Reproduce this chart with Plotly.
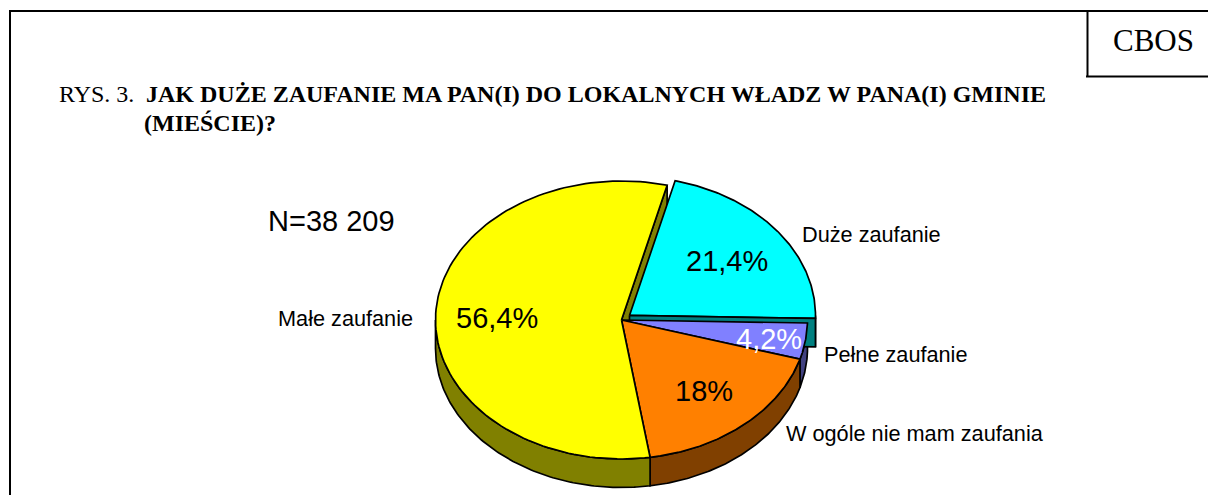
import math
import plotly.graph_objects as go

# ---- data ----
categories = ["Duże zaufanie", "Pełne zaufanie", "W ogóle nie mam zaufania", "Małe zaufanie"]
values = [21.4, 4.2, 18.0, 56.4]
face_colors = ["#00FFFF", "#8080FF", "#FF8000", "#FFFF00"]
side_colors = ["#008080", "#404080", "#804000", "#808000"]
label_colors = ["#000000", "#FFFFFF", "#000000", "#000000"]
explode = [0.054, 0, 0, 0]
n_text = "N=38 209"
source_text = "CBOS"

# ---- layout constants (pixels) ----
W, H = 1208, 495
CX, CY, RX, RY = 621.5, 320.0, 186.0, 139.0
DEPTH = 0.205          # pie thickness in radius units
START = 14.2           # degrees clockwise from top

x_range = [-CX / RX, (W - CX) / RX]
y_range = [(CY - H) / RY, CY / RY]


def pt(deg, ox=0.0, oy=0.0, drop=0.0):
    r = math.radians(deg)
    return math.sin(r) + ox, math.cos(r) + oy - drop


def arc(a, b, ox=0.0, oy=0.0, drop=0.0, steps=120):
    return [pt(a + (b - a) * i / steps, ox, oy, drop) for i in range(steps + 1)]


def poly(points, color, width=1.7):
    xs = [p[0] for p in points] + [points[0][0]]
    ys = [p[1] for p in points] + [points[0][1]]
    return go.Scatter(x=xs, y=ys, mode="lines", fill="toself", fillcolor=color,
                      line=dict(color="#000000", width=width), hoverinfo="skip",
                      showlegend=False)


spans = []
a = START
for v in values:
    b = a + v * 3.6
    spans.append((a, b))
    a = b

offsets = []
for (a, b), e in zip(spans, explode):
    m = math.radians((a + b) / 2)
    offsets.append((e * math.sin(m), e * math.cos(m)))

traces = []

# radial wall of the large slice, seen through the gap left by the exploded one
yi = categories.index("Małe zaufanie")
ya = spans[yi][1]
traces.append(poly([(0, 0), pt(ya), pt(ya, drop=DEPTH), (0, -DEPTH)], side_colors[yi]))

# outer rims
for i, (a, b) in enumerate(spans):
    lo, hi = max(a, 90), min(b, 270)
    if hi > lo:
        ox, oy = offsets[i]
        traces.append(poly(arc(lo, hi, ox, oy) + arc(hi, lo, ox, oy, DEPTH), side_colors[i]))

# exploded slice: face, then its lower radial wall
ci = 0
ox, oy = offsets[ci]
a, b = spans[ci]
traces.append(poly([(ox, oy)] + arc(a, b, ox, oy), face_colors[ci]))
traces.append(poly([(ox, oy), pt(b, ox, oy), pt(b, ox, oy, DEPTH), (ox, oy - DEPTH)], side_colors[ci]))

# remaining faces
for i in range(1, len(values)):
    a, b = spans[i]
    traces.append(poly([(0, 0)] + arc(a, b), face_colors[i]))

fig = go.Figure(traces)


def ann(text, x, y, size, family, color="#000000", anchor="left"):
    fig.add_annotation(text=text, x=x / W, y=1 - y / H, xref="paper", yref="paper",
                       showarrow=False, xanchor=anchor, yanchor="middle",
                       borderpad=0, align="left",
                       font=dict(size=size, family=family, color=color))


SERIF = "Liberation Serif"
SANS = "Liberation Sans"

ann(source_text, 1153, 41, 31, SERIF, anchor="center")
ann("RYS. 3.", 58, 93.5, 24, SERIF)
ann("<b>JAK DUŻE ZAUFANIE MA PAN(I) DO LOKALNYCH WŁADZ W PANA(I) GMINIE</b>", 144.5, 93.5, 24, SERIF)
ann("<b>(MIEŚCIE)?</b>", 143, 122.5, 24, SERIF)
ann(n_text, 267, 221, 29, SANS)

# percentage labels
pct_pos = [(726.7, 261), (769, 338.5), (703.7, 390.5), (496.8, 317.5)]
for v, c, (x, y) in zip(values, label_colors, pct_pos):
    s = f"{v:g}".replace(".", ",") + "%"
    ann(s, x, y, 29, SANS, color=c, anchor="center")

# category labels
cat_pos = [(801, 235), (822.5, 354.5), (785.5, 433.5), (276.5, 318.5)]
for name, (x, y) in zip(categories, cat_pos):
    ann(name, x, y, 21.7, SANS)

# frame
LINE = dict(color="#000000", width=2)
for x0, y0, x1, y1 in [(10, 11, 1208, 11), (10, 10, 10, 495), (1087.5, 11, 1087.5, 77), (1086, 76.5, 1208, 76.5)]:
    fig.add_shape(type="line", xref="paper", yref="paper", x0=x0 / W, x1=x1 / W,
                  y0=1 - y0 / H, y1=1 - y1 / H, line=LINE)

fig.update_layout(width=W, height=H, margin=dict(l=0, r=0, t=0, b=0, pad=0),
                  paper_bgcolor="#FFFFFF", plot_bgcolor="#FFFFFF", showlegend=False,
                  xaxis=dict(visible=False, range=x_range, fixedrange=True),
                  yaxis=dict(visible=False, range=y_range, fixedrange=True))

fig.write_html("out.html", config={"displayModeBar": False},
               post_script="document.body.style.margin='0';document.body.style.overflow='hidden';")
